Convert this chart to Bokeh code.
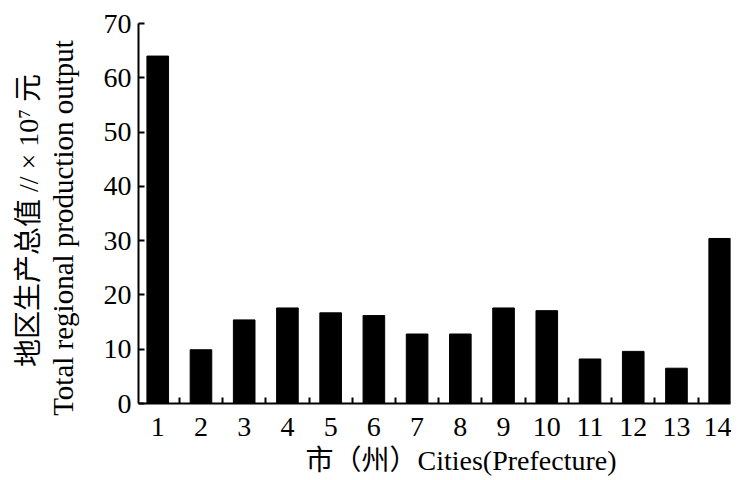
from bokeh.plotting import figure
from bokeh.models import ColumnDataSource, FixedTicker, Title, Range1d
from bokeh.embed import file_html
from bokeh.resources import INLINE

cities = [1, 2, 3, 4, 5, 6, 7, 8, 9, 10, 11, 12, 13, 14]
output = [64.0, 9.9, 15.4, 17.6, 16.7, 16.2, 12.8, 12.8, 17.6, 17.1, 8.2, 9.6, 6.5, 30.4]
y_ticks = [0, 10, 20, 30, 40, 50, 60, 70]
x_minor = [1.5, 2.5, 3.5, 4.5, 5.5, 6.5, 7.5, 8.5, 9.5, 10.5, 11.5, 12.5, 13.5]

FONT = "'Liberation Serif', 'Noto Sans CJK SC', serif"
NB = "\u00a0"

src = ColumnDataSource(dict(x=cities, top=output))

p = figure(width=731, height=480, output_backend="svg", toolbar_location=None,
           x_range=Range1d(0.555, 14.25), y_range=Range1d(0, 70),
           min_border_left=138, min_border_right=1, min_border_top=23, min_border_bottom=77)
p.vbar(x="x", top="top", width=0.5, source=src, color="black")

p.grid.visible = False
p.outline_line_color = None

# y axis
ya = p.yaxis[0]
ya.ticker = FixedTicker(ticks=y_ticks)
ya.major_tick_in = 6
ya.major_tick_out = 0
ya.minor_tick_in = 0
ya.minor_tick_out = 0
ya.axis_line_width = 2
ya.major_tick_line_width = 2
ya.major_label_text_font = FONT
ya.major_label_text_font_size = "28px"
ya.major_label_text_color = "black"
ya.major_label_standoff = 7
ya.axis_label = "Total regional production output" + NB * 4
ya.axis_label_text_font = FONT
ya.axis_label_text_font_size = "29px"
ya.axis_label_text_font_style = "normal"
ya.axis_label_text_color = "black"
ya.axis_label_standoff = 22

# x axis
xa = p.xaxis[0]
xa.ticker = FixedTicker(ticks=cities, minor_ticks=x_minor)
xa.major_tick_in = 0
xa.major_tick_out = 0
xa.minor_tick_in = 6
xa.minor_tick_out = 0
xa.minor_tick_line_width = 2
xa.axis_line_width = 2
xa.major_label_text_font = FONT
xa.major_label_text_font_size = "28px"
xa.major_label_text_color = "black"
xa.major_label_standoff = 14

# y label first line (outermost)
t1 = Title(text="地区生产总值 // × 10⁷ 元" + NB * 2, align="center",
           text_font=FONT, text_font_size="28px", text_font_style="normal",
           text_color="black", standoff=0)
p.add_layout(t1, "left")

# x label
t2 = Title(text="市（州）Cities(Prefecture)", align="left", offset=167,
           vertical_align="bottom",
           text_font=FONT, text_font_size="28px", text_font_style="normal",
           text_color="black", standoff=9)
p.add_layout(t2, "below")

open("out.html", "w").write(file_html(p, INLINE))
